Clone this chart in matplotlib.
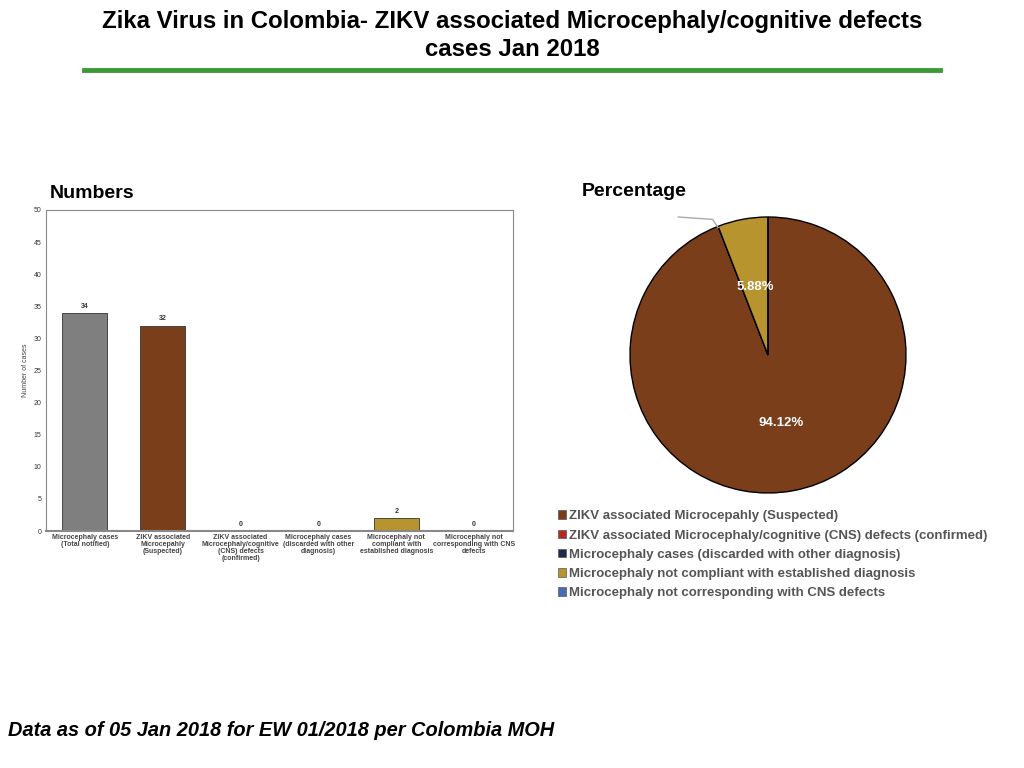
import numpy as np
import matplotlib
matplotlib.use('Agg')
import matplotlib.pyplot as plt

plt.rcParams['font.family'] = ['Liberation Sans', 'DejaVu Sans']

## 데이터
bar_labels = ['Microcephaly cases\n(Total notified)',
              'ZIKV associated\nMicrocepahly\n(Suspected)',
              'ZIKV associated\nMicrocephaly/cognitive\n(CNS) defects\n(confirmed)',
              'Microcephaly cases\n(discarded with other\ndiagnosis)',
              'Microcephaly not\ncompliant with\nestablished diagnosis',
              'Microcephaly not\ncorresponding with CNS\ndefects']
bar_values = [34, 32, 0, 0, 2, 0]
bar_colors = ['#7f7f7f', '#7a3e1b', '#b22a22', '#1c2a4a', '#b8942f', '#4a6cb0']

pie_labels = ['ZIKV associated Microcepahly (Suspected)',
              'ZIKV associated Microcephaly/cognitive (CNS) defects (confirmed)',
              'Microcephaly cases (discarded with other diagnosis)',
              'Microcephaly not compliant with established diagnosis',
              'Microcephaly not corresponding with CNS defects']
pie_values = [32, 0, 0, 2, 0]
pie_colors = ['#7a3e1b', '#b22a22', '#1c2a4a', '#b8942f', '#4a6cb0']

fig = plt.figure(figsize=(10.24, 7.68), dpi=100)

## 제목 + 녹색 선
fig.text(0.5, 1 - 10 / 768, 'Zika Virus in Colombia- ZIKV associated Microcephaly/cognitive defects\ncases Jan 2018',
         ha='center', va='top', fontsize=17.3, fontweight='bold', linespacing=1.3)
fig.add_artist(plt.Line2D([84 / 1024, 940 / 1024], [1 - 70 / 768, 1 - 70 / 768],
                          color='#3c9a35', lw=3.5))

fig.text(50 / 1024, 1 - 193 / 768, 'Numbers', fontsize=14, fontweight='bold', va='center')
fig.text(582 / 1024, 1 - 191 / 768, 'Percentage', fontsize=14, fontweight='bold', va='center')

## 바 차트
ax = fig.add_axes([46 / 1024, 1 - 531 / 768, 467 / 1024, 321 / 768])
x = np.arange(len(bar_values))
ax.bar(x, bar_values, width=0.58, color=bar_colors[:len(bar_values)],
       edgecolor='#333333', linewidth=0.6)
for xi, v in zip(x, bar_values):
    ax.text(xi, v + 0.5, str(v), ha='center', va='bottom', fontsize=5, fontweight='bold', color='#333333')
ax.set_xlim(-0.5, 5.5)
ax.set_ylim(0, 50)
ax.set_yticks(range(0, 51, 5))
ax.set_xticks(x)
ax.set_xticklabels(bar_labels, fontsize=5, fontweight='bold', color='#444444', linespacing=1.0)
ax.tick_params(axis='y', labelsize=5, length=0, colors='#333333')
ax.tick_params(axis='x', length=0, pad=2)
ax.set_ylabel('Number of cases', fontsize=5, color='#444444', labelpad=3)
for s in ax.spines.values():
    s.set_color('#888888')
    s.set_linewidth(0.8)
ax.spines['bottom'].set_linewidth(1.5)

## 파이 차트
pax = fig.add_axes([630 / 1024, 1 - 493 / 768, 276 / 1024, 276 / 768])
total = sum(pie_values)
wedges, texts, autotexts = pax.pie(pie_values, colors=pie_colors, startangle=90, counterclock=False,
                                   autopct=lambda p: '%.2f%%' % p if p > 0 else '',
                                   pctdistance=0.5, radius=1,
                                   wedgeprops=dict(edgecolor='black', linewidth=1))
for t in autotexts:
    t.set_color('white')
    t.set_fontsize(9.5)
    t.set_fontweight('bold')
pax.set_xlim(-1, 1)
pax.set_ylim(-1, 1)
pax.set_aspect('equal')

# 0% 조각의 지시선
ang = np.deg2rad(90 - 360 * pie_values[0] / total)
px, py = np.cos(ang), np.sin(ang)
pax.plot([px * 1.0, px * 1.0 - 0.04, -0.65], [py * 0.99, py * 1.0 + 0.05, 1.0],
         color='#aaaaaa', lw=1, clip_on=False)

## 범례
handles = [plt.Rectangle((0, 0), 1, 1, facecolor=c, edgecolor='#555555', lw=0.5) for c in pie_colors]
leg = fig.legend(handles, pie_labels, loc='upper left', bbox_to_anchor=(553 / 1024, 1 - 505 / 768),
                 frameon=False, fontsize=9.5, handlelength=0.6, handleheight=0.6,
                 handletextpad=0.2, labelspacing=0.55, borderaxespad=0)
for t in leg.get_texts():
    t.set_color('#555555')
    t.set_fontweight('bold')

## 하단 주석
fig.text(8 / 1024, 1 - 730 / 768, 'Data as of 05 Jan 2018 for EW 01/2018 per Colombia MOH',
         fontsize=14.4, fontweight='bold', fontstyle='italic', va='center')

fig.savefig('out.png', dpi=100)
